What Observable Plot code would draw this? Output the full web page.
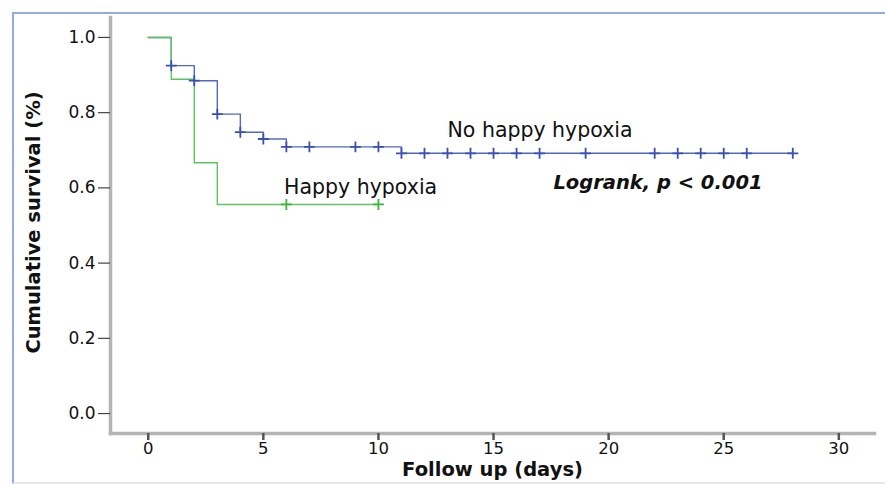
<!DOCTYPE html>
<html>
<head>
<meta charset="utf-8">
<script src="https://cdn.jsdelivr.net/npm/d3@7"></script>
<script src="https://cdn.jsdelivr.net/npm/@observablehq/plot@0.6"></script>
<style>
  html, body { margin: 0; padding: 0; background: #fff; }
  #wrap { position: relative; width: 885px; height: 484px; overflow: hidden; }
  #border { position: absolute; left: 12px; top: 12px; width: 880px; height: 468px;
            border-left: 2px solid #90abe6; border-top: 2px solid #90abe6;
            border-bottom: 2px solid #e4e7ee; pointer-events: none; }
</style>
</head>
<body>
<div id="wrap"><div id="border"></div></div>
<script>
// Kaplan–Meier step data (time in days, cumulative survival)
const noHappyTimes = [0, 1, 2, 3, 4, 5, 6, 11, 28];
const noHappySurv  = [1.0, 0.925, 0.885, 0.796, 0.748, 0.730, 0.709, 0.692, 0.692];
const happyTimes   = [0, 1, 2, 3, 10];
const happySurv    = [1.0, 0.889, 0.667, 0.556, 0.556];

// Censored observations
const noHappyCensorTimes = [1, 2, 3, 4, 5, 6, 7, 9, 10, 11, 12, 13, 14, 15, 16, 17, 19, 22, 23, 24, 25, 26, 28];
const noHappyCensorSurv  = [0.925, 0.885, 0.796, 0.748, 0.730, 0.709, 0.709, 0.709, 0.709,
                            0.692, 0.692, 0.692, 0.692, 0.692, 0.692, 0.692, 0.692, 0.692, 0.692, 0.692, 0.692, 0.692, 0.692];
const happyCensorTimes = [6, 10];
const happyCensorSurv  = [0.556, 0.556];

// Tick labels
const xTicks = [0, 5, 10, 15, 20, 25, 30];
const yTicks = [0, 0.2, 0.4, 0.6, 0.8, 1.0];

// Annotations (data coordinates)
const groupLabels = ["No happy hypoxia", "Happy hypoxia"];
const groupLabelX = [13, 5.9];
const groupLabelY = [0.735, 0.583];
const testLabel = "Logrank, p < 0.001";
const testLabelX = 17.6;
const testLabelY = 0.596;

const xTitle = "Follow up (days)";
const yTitle = "Cumulative survival (%)";

const toRows = (xs, ys) => xs.map((x, i) => ({x, y: ys[i]}));
const noHappy = toRows(noHappyTimes, noHappySurv);
const happy = toRows(happyTimes, happySurv);
const noHappyC = toRows(noHappyCensorTimes, noHappyCensorSurv);
const happyC = toRows(happyCensorTimes, happyCensorSurv);
const labels = groupLabels.map((t, i) => ({t, x: groupLabelX[i], y: groupLabelY[i]}));

const BLUE = "#5268c4", BLUE_D = "#3a4fb2";
const GREEN = "#5cc85c", GREEN_D = "#3cb53c";

const chart = Plot.plot({
  width: 885,
  height: 484,
  marginLeft: 110,
  marginRight: 11,
  marginTop: 17,
  marginBottom: 51,
  style: {fontFamily: "DejaVu Sans", fontSize: "16px", color: "#111", background: "transparent"},
  x: {domain: [-1.64, 31.55]},
  y: {domain: [-0.053, 1.053]},
  marks: [
    Plot.frame({anchor: "left", stroke: "#b4b4b4", strokeWidth: 3.5}),
    Plot.frame({anchor: "bottom", stroke: "#b4b4b4", strokeWidth: 3.5}),
    Plot.axisY({ticks: yTicks, tickFormat: d3.format(".1f"), tickSize: 12, tickPadding: 3,
                stroke: "#444", strokeWidth: 1.2, label: null, fontSize: 17, fill: "#111"}),
    Plot.axisX({ticks: xTicks, tickSize: 7, tickPadding: 2, stroke: "#555", strokeWidth: 2.5,
                label: null, fontSize: 16.5, fill: "#111"}),
    Plot.line(noHappy, {x: "x", y: "y", curve: "step-after", stroke: BLUE, strokeWidth: 1.4}),
    Plot.line(happy, {x: "x", y: "y", curve: "step-after", stroke: GREEN, strokeWidth: 1.4}),
    Plot.dot(noHappyC, {x: "x", y: "y", symbol: "plus", r: 3.6, stroke: BLUE_D, strokeWidth: 1.8}),
    Plot.dot(happyC, {x: "x", y: "y", symbol: "plus", r: 3.6, stroke: GREEN_D, strokeWidth: 1.8}),
    Plot.text(labels, {x: "x", y: "y", text: "t", textAnchor: "start", lineAnchor: "bottom",
                       fontSize: 20.5, fill: "#111"}),
    Plot.text([testLabel], {x: () => testLabelX, y: () => testLabelY, text: d => d, textAnchor: "start",
                       lineAnchor: "bottom", fontSize: 19.5, fontWeight: "bold", fontStyle: "italic", fill: "#111"}),
    Plot.text([xTitle], {frameAnchor: "bottom", textAnchor: "middle", lineAnchor: "bottom", dy: 42.5,
                         text: d => d, fontSize: 19.5, fontWeight: "bold", fill: "#111"}),
    Plot.text([yTitle], {frameAnchor: "left", textAnchor: "middle", lineAnchor: "middle", dx: -77, dy: -3,
                         rotate: -90, text: d => d, fontSize: 19.5, fontWeight: "bold", fill: "#111"})
  ]
});
document.getElementById("wrap").prepend(chart);
</script>
</body>
</html>
